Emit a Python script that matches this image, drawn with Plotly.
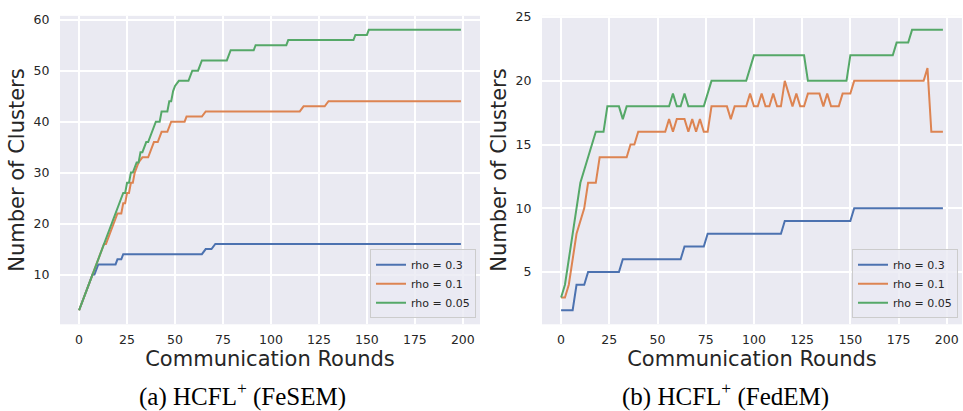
import plotly.graph_objects as go

# ---------------- data ----------------
rounds_ticks = [0, 25, 50, 75, 100, 125, 150, 175, 200]
series_names = ["rho = 0.3", "rho = 0.1", "rho = 0.05"]
colors = ["#4C72B0", "#DD8452", "#55A868"]

# (a) HCFL+ (FeSEM) -- polyline vertices (round, clusters)
fesem_x_rho03 = [0, 7, 8, 10, 19, 20, 22, 23, 64, 66, 69, 71, 199]
fesem_y_rho03 = [3, 10, 10, 12, 12, 13, 13, 14, 14, 15, 15, 16, 16]

fesem_x_rho01 = [0, 10, 13, 14, 20, 22, 23, 24, 25, 26, 27, 28, 29, 31, 33, 36, 39, 41, 43, 46,
                 48, 55, 56, 64, 66, 115, 117, 128, 130, 199]
fesem_y_rho01 = [3, 13, 16, 16, 22, 22, 24, 24, 26, 26, 28, 28, 30, 32, 33, 33, 36, 36, 38, 38,
                 40, 40, 41, 41, 42, 42, 43, 43, 44, 44]

fesem_x_rho005 = [0, 23, 24, 25, 26, 27, 28, 30, 31, 32, 33, 35, 36, 40, 42, 43, 46, 47, 48, 49,
                  50, 52, 57, 58, 59, 62, 63, 64, 77, 79, 91, 92, 108, 109, 143, 144, 150, 151, 199]
fesem_y_rho005 = [3, 26, 26, 28, 28, 30, 30, 32, 32, 34, 34, 36, 36, 40, 40, 42, 42, 44, 44, 46,
                  47, 48, 48, 49, 50, 50, 51, 52, 52, 54, 54, 55, 55, 56, 56, 57, 57, 58, 58]

# (b) HCFL+ (FedEM)
fedem_x_rho03 = [0, 6, 8, 12, 14, 30, 32, 62, 64, 74, 76, 114, 116, 150, 152, 198]
fedem_y_rho03 = [2, 2, 4, 4, 5, 5, 6, 6, 7, 7, 8, 8, 9, 9, 10, 10]

fedem_x_rho01 = [0, 2, 4, 8, 12, 14, 18, 20, 34, 36, 38, 40, 54, 56, 58, 60, 64, 66, 68, 70,
                 72, 74, 76, 78, 86, 88, 90, 96, 98, 100, 102, 104, 106, 108, 110, 112, 114, 116,
                 118, 120, 122, 124, 126, 128, 134, 136, 138, 140, 144, 146, 150, 152, 188, 190,
                 192, 198]
fedem_y_rho01 = [3, 3, 4, 8, 10, 12, 12, 14, 14, 15, 15, 16, 16, 17, 16, 17, 17, 16, 17, 16,
                 17, 16, 16, 18, 18, 17, 18, 18, 19, 18, 18, 19, 18, 18, 19, 18, 18, 20,
                 19, 18, 19, 18, 18, 19, 19, 18, 19, 18, 18, 19, 19, 20, 20, 21,
                 16, 16]

fedem_x_rho005 = [0, 2, 10, 18, 22, 24, 30, 32, 34, 56, 58, 60, 62, 64, 66, 74, 78, 96, 100, 126,
                  128, 148, 150, 172, 174, 180, 182, 198]
fedem_y_rho005 = [3, 4, 12, 16, 16, 18, 18, 17, 18, 18, 19, 18, 18, 19, 18, 18, 20, 20, 22, 22,
                  20, 20, 22, 22, 23, 23, 24, 24]

left_yticks = [10, 20, 30, 40, 50, 60]
right_yticks = [5, 10, 15, 20, 25]

x_title = "Communication Rounds"
y_title = "Number of Clusters"
captions = ["(a) HCFL<sup>+</sup> (FeSEM)", "(b) HCFL<sup>+</sup> (FedEM)"]

# ---------------- figure ----------------
W, H = 963, 411
fig = go.Figure()

left_sets = [(fesem_x_rho03, fesem_y_rho03), (fesem_x_rho01, fesem_y_rho01), (fesem_x_rho005, fesem_y_rho005)]
right_sets = [(fedem_x_rho03, fedem_y_rho03), (fedem_x_rho01, fedem_y_rho01), (fedem_x_rho005, fedem_y_rho005)]

for (xs, ys), name, c in zip(left_sets, series_names, colors):
    fig.add_trace(go.Scatter(x=xs, y=ys, mode="lines", name=name, line=dict(color=c, width=2),
                             xaxis="x", yaxis="y", legend="legend"))
for (xs, ys), name, c in zip(right_sets, series_names, colors):
    fig.add_trace(go.Scatter(x=xs, y=ys, mode="lines", name=name, line=dict(color=c, width=2),
                             xaxis="x2", yaxis="y2", legend="legend2"))

txt = "#262626"
font_main = "DejaVu Sans"
ydom = [1 - 323 / H, 1 - 10 / H]

def xaxis(dom, rng, anchor):
    return dict(domain=dom, range=rng, anchor=anchor, tickvals=rounds_ticks,
                showgrid=True, gridcolor="white", gridwidth=1.6, zeroline=False,
                showline=False, ticks="outside", ticklen=4, tickcolor="rgba(0,0,0,0)",
                tickfont=dict(family=font_main, size=12.5, color=txt),
                title=dict(text=x_title, font=dict(family=font_main, size=21, color=txt), standoff=3))

def yaxis(rng, ticks, anchor):
    return dict(domain=ydom, range=rng, anchor=anchor, tickvals=ticks,
                showgrid=True, gridcolor="white", gridwidth=1.6, zeroline=False,
                showline=False, ticks="outside", ticklen=7, tickcolor="rgba(0,0,0,0)",
                tickfont=dict(family=font_main, size=12.5, color=txt),
                title=dict(text=y_title, font=dict(family=font_main, size=21, color=txt), standoff=3))

legend_common = dict(bgcolor="rgba(234,234,242,0.8)", bordercolor="#CCCCCC", borderwidth=1,
                     font=dict(family=font_main, size=11, color=txt),
                     xanchor="right", yanchor="bottom", y=1 - 317 / H)

fig.update_layout(
    width=W, height=H,
    margin=dict(l=0, r=0, t=0, b=0),
    paper_bgcolor="white", plot_bgcolor="#EAEAF2",
    xaxis=xaxis([60 / W, 480 / W], [-9.95, 208.95], "y"),
    yaxis=yaxis([0.25, 60.75], left_yticks, "x"),
    xaxis2=xaxis([542 / W, 962 / W], [-9.9, 207.9], "y2"),
    yaxis2=yaxis([0.9, 25.1], right_yticks, "x2"),
    legend=dict(x=476 / W, **legend_common),
    legend2=dict(x=958 / W, **legend_common),
    showlegend=True,
)

for cx, cap in zip([243, 725], captions):
    fig.add_annotation(x=cx / W, y=1 - 394 / H, xref="paper", yref="paper",
                       text=cap, showarrow=False, xanchor="center", yanchor="middle",
                       font=dict(family="Liberation Serif", size=25, color="black"))

fig.write_html("out.html", config={"displayModeBar": False},
               post_script="document.body.style.margin='0px';document.body.style.overflow='hidden';")
